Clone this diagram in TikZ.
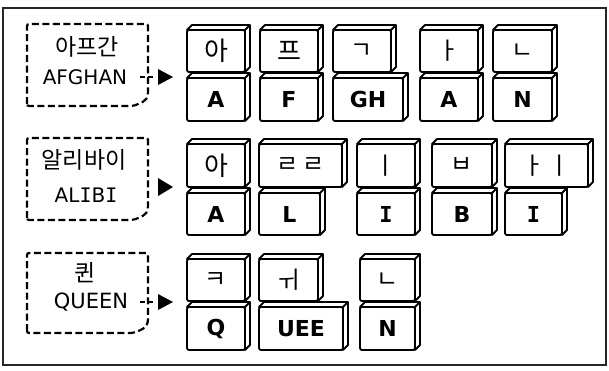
\documentclass[tikz,border=0pt]{standalone}
\usepackage{fontspec}
\setmainfont{DejaVu Sans}
\newfontfamily\kr{Noto Sans CJK KR}
\newfontfamily\dmono{DejaVu Sans Mono}
\newcommand\keybox[6]{%
  \node[keyface, minimum width={#4-#2}, minimum height={#5-#3}] (#1) at (#2,#3) {#6};
  \filldraw[keyline, fill=white] (#1.north west) -- ++(5,-5) -- ([shift={(5,-5)}]#1.north east)
    -- ([shift={(5,-5)}]#1.south east) -- (#1.south east) -- (#1.north east) -- cycle;
  \draw[keyline] (#1.north east) -- ++(5,-5);
}
\newcommand\jamo[1]{{\kr\fontsize{24}{24}\selectfont #1}}
\newcommand\syl[1]{{\kr\fontsize{26}{26}\selectfont #1}}
\newcommand\lat[1]{{\fontsize{22}{22}\selectfont\bfseries #1}}
\newcommand\serI{{\dmono I}}
\newcommand\serIb{{\dmono\bfseries I}}
\begin{document}
\begin{tikzpicture}[x=1pt,y=-1pt,
  frame/.style={draw=black!85, line width=1.1pt},
  dbox/.style={draw, line width=2.2pt, dash pattern=on 7pt off 3.5pt, rounded corners=2pt},
  stub/.style={draw, line width=2.2pt, dash pattern=on 5pt off 3pt},
  keyline/.style={line width=1.8pt, line join=round},
  keyface/.style={draw, fill=white, line width=1.8pt, rounded corners=2pt, inner sep=0pt,
    outer sep=0pt, anchor=north west},
  krtext/.style={font=\kr\fontsize{23}{23}\selectfont, inner sep=0pt},
  entext/.style={font=\fontsize{20}{20}\selectfont, inner sep=0pt},
  tri/.style={fill=black}
]
\useasboundingbox (0,0) rectangle (609,370);
\draw[frame] (3,8) rectangle (606,365);

% ---------- row 1 ----------
\draw[dbox] (27,106) -- (27,24) -- (148,24) -- (148,93) .. controls (147,101) and (141,103) .. (133,106) -- cycle;
\node[krtext] (k1) at (87,47) {아프간};
\node[entext] (e1) at (85,77) {AFGHAN};
\coordinate (s1a) at (140,77);
\coordinate (s1b) at (154,77);
\draw[stub] (s1a) -- (s1b);
\fill[tri] (158,69) -- (173,77) -- (158,85) -- cycle;

\keybox{u11}{187}{30}{245}{72}{\syl{아}}
\keybox{l11}{187}{78}{245}{121}{\lat{A}}
\keybox{u12}{260}{30}{318}{72}{\syl{프}}
\keybox{l12}{260}{78}{318}{121}{\lat{F}}
\keybox{u13}{333}{30}{391}{72}{\jamo{ㄱ}}
\keybox{l13}{333}{78}{403}{121}{\lat{GH}}
\keybox{u14}{420}{30}{478}{72}{\jamo{ㅏ}}
\keybox{l14}{420}{78}{478}{121}{\lat{A}}
\keybox{u15}{493}{30}{552}{72}{\jamo{ㄴ}}
\keybox{l15}{493}{78}{552}{121}{\lat{N}}

% ---------- row 2 ----------
\draw[dbox] (27,220) -- (27,138) -- (148,138) -- (148,207) .. controls (147,215) and (141,217) .. (133,220) -- cycle;
\node[krtext] (k2) at (84,160) {알리바이};
\node[entext] (e2) at (86,195) {AL\serI B\serI};
\fill[tri] (158,178) -- (173,187) -- (158,196) -- cycle;

\keybox{u21}{187}{144}{245}{187}{\syl{아}}
\keybox{l21}{187}{193}{245}{235}{\lat{A}}
\keybox{u22}{259}{144}{342}{187}{\jamo{ㄹ\hspace{3pt}ㄹ}}
\keybox{l22}{259}{193}{320}{235}{\lat{L}}
\keybox{u23}{357}{144}{415}{187}{\jamo{ㅣ}}
\keybox{l23}{357}{193}{415}{235}{\lat{\serIb}}
\keybox{u24}{432}{144}{492}{187}{\jamo{ㅂ}}
\keybox{l24}{432}{193}{492}{235}{\lat{B}}
\keybox{u25}{505}{144}{588}{187}{\jamo{ㅏ\hspace{3pt}ㅣ}}
\keybox{l25}{505}{193}{562}{235}{\lat{\serIb}}

% ---------- row 3 ----------
\draw[dbox] (27,333) -- (27,253) -- (148,253) -- (148,320) .. controls (147,328) and (141,330) .. (133,333) -- cycle;
\node[krtext] (k3) at (85,273) {퀸};
\node[entext, font=\fontsize{21}{21}\selectfont] (e3) at (91,302) {QUEEN};
\coordinate (s3a) at (140,302);
\coordinate (s3b) at (154,302);
\draw[stub] (s3a) -- (s3b);
\fill[tri] (158,294) -- (173,302) -- (158,310) -- cycle;

\keybox{u31}{187}{259}{245}{301}{\jamo{ㅋ}}
\keybox{l31}{187}{307}{245}{350}{\lat{Q}}
\keybox{u32}{259}{259}{318}{301}{\jamo{ㅟ}}
\keybox{l32}{259}{307}{343}{350}{\lat{UEE}}
\keybox{u33}{360}{259}{415}{301}{\jamo{ㄴ}}
\keybox{l33}{360}{307}{415}{350}{\lat{N}}
\end{tikzpicture}
\end{document}
